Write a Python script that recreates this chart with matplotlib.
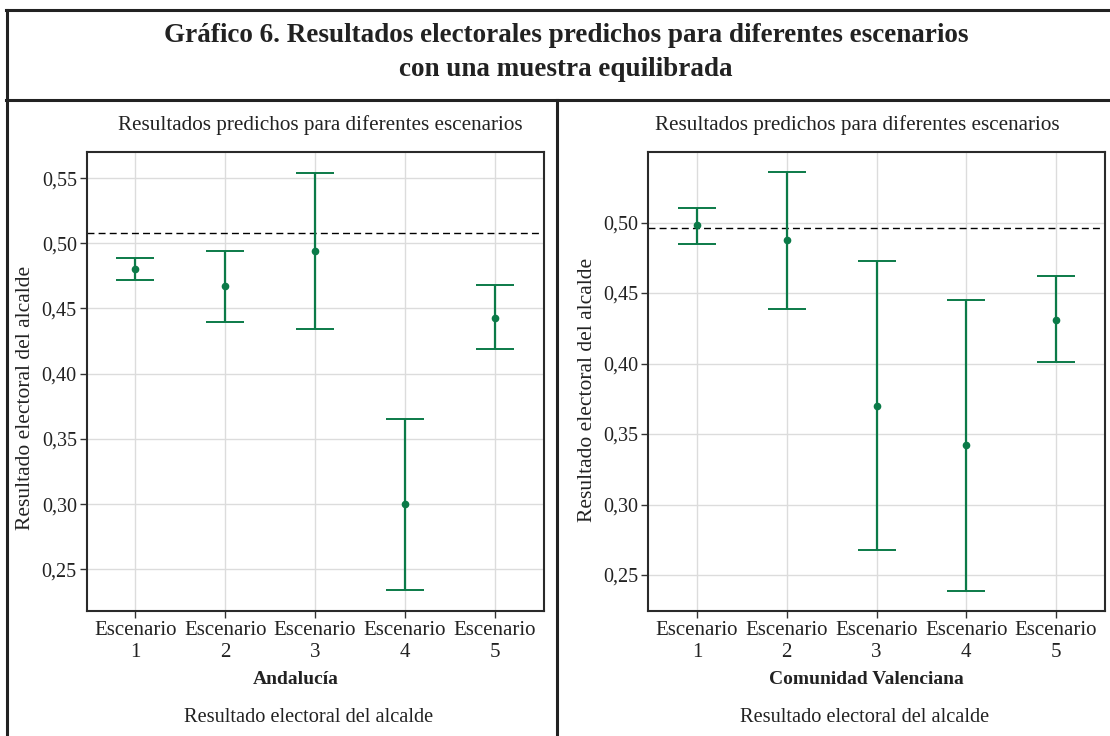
import matplotlib.pyplot as plt
from matplotlib.lines import Line2D

plt.rcParams["font.family"] = ["Liberation Serif", "DejaVu Serif"]

# ----------------------------------------------------------------------------
# Data
escenarios = ["Escenario\n1", "Escenario\n2", "Escenario\n3", "Escenario\n4", "Escenario\n5"]
ticks_and = [0.25, 0.30, 0.35, 0.40, 0.45, 0.50, 0.55]
labels_and = ["0,25", "0,30", "0,35", "0,40", "0,45", "0,50", "0,55"]
ticks_val = [0.25, 0.30, 0.35, 0.40, 0.45, 0.50]
labels_val = ["0,25", "0,30", "0,35", "0,40", "0,45", "0,50"]

and_mean = [0.480, 0.467, 0.494, 0.300, 0.443]
and_low = [0.472, 0.440, 0.434, 0.234, 0.419]
and_high = [0.489, 0.494, 0.554, 0.365, 0.468]
and_ref = 0.508

val_mean = [0.498, 0.4875, 0.370, 0.342, 0.431]
val_low = [0.485, 0.439, 0.2675, 0.239, 0.401]
val_high = [0.510, 0.536, 0.473, 0.445, 0.462]
val_ref = 0.496

green = "#0b7a48"
W, H = 1110, 736


def fx(px):
    return px / W


def fy(py):
    return 1 - py / H


fig = plt.figure(figsize=(11.1, 7.36), dpi=100)

# ----------------------------------------------------------------------------
# Frame lines
frame = dict(color="#222222", linewidth=2.2, transform=fig.transFigure)
fig.add_artist(Line2D([fx(6), 1], [fy(10), fy(10)], **frame))
fig.add_artist(Line2D([fx(6), 1], [fy(100), fy(100)], **frame))
fig.add_artist(Line2D([fx(7), fx(7)], [fy(10), 0], **frame))
fig.add_artist(Line2D([fx(557), fx(557)], [fy(100), 0], **frame))

fig.text(fx(566), fy(35), "Gráfico 6. Resultados electorales predichos para diferentes escenarios",
         ha="center", va="center", fontsize=19.5, fontweight="bold", color="#222222")
fig.text(fx(566), fy(69), "con una muestra equilibrada",
         ha="center", va="center", fontsize=19.5, fontweight="bold", color="#222222")


def panel(left_px, means, lows, highs, ref, ylim, yt, ytl, region, sub_x, reg_x, bot_x, ylab_y):
    ax = fig.add_axes([fx(left_px), fy(611), fx(457), 459 / H])
    x = list(range(1, len(means) + 1))
    err = [[m - l for m, l in zip(means, lows)], [h - m for m, h in zip(means, highs)]]
    ax.errorbar(x, means, yerr=err, fmt="o", color=green, ecolor=green,
                markersize=4.5, elinewidth=1.6, capsize=14, capthick=1.4, zorder=3)
    ax.axhline(ref, color="black", linewidth=1, linestyle=(0, (5, 3)), zorder=2)
    ax.set_xlim(0.455, 5.545)
    ax.set_ylim(*ylim)
    ax.set_xticks(x)
    ax.set_xticklabels(escenarios, fontsize=15, linespacing=1.2, color="#222222")
    ax.set_yticks(yt)
    ax.set_yticklabels(ytl, fontsize=14.5, color="#222222")
    ax.grid(True, color="#dcdcdc", linewidth=1)
    ax.set_axisbelow(True)
    ax.tick_params(length=5, width=1, pad=2, color="#333333")
    for s in ax.spines.values():
        s.set_linewidth(1.5)
        s.set_color("#2a2a2a")

    fig.text(fx(sub_x), fy(125), "Resultados predichos para diferentes escenarios",
             ha="center", va="center", fontsize=15.2, color="#222222")
    fig.text(fx(reg_x), fy(680), region, ha="center", va="center",
             fontsize=14, fontweight="bold", color="#222222")
    fig.text(fx(bot_x), fy(717), "Resultado electoral del alcalde",
             ha="center", va="center", fontsize=14.7, color="#222222")
    fig.text(fx(left_px - 61), fy(ylab_y), "Resultado electoral del alcalde",
             ha="center", va="center", rotation=90, fontsize=15.5, color="#222222")
    return ax


panel(86.5, and_mean, and_low, and_high, and_ref, (0.218, 0.570), ticks_and, labels_and,
      "Andalucía", 320, 296, 309, 398)
panel(648, val_mean, val_low, val_high, val_ref, (0.2245, 0.550), ticks_val, labels_val,
      "Comunidad Valenciana", 857, 866, 865, 390)

plt.savefig("out.png", dpi=100)
